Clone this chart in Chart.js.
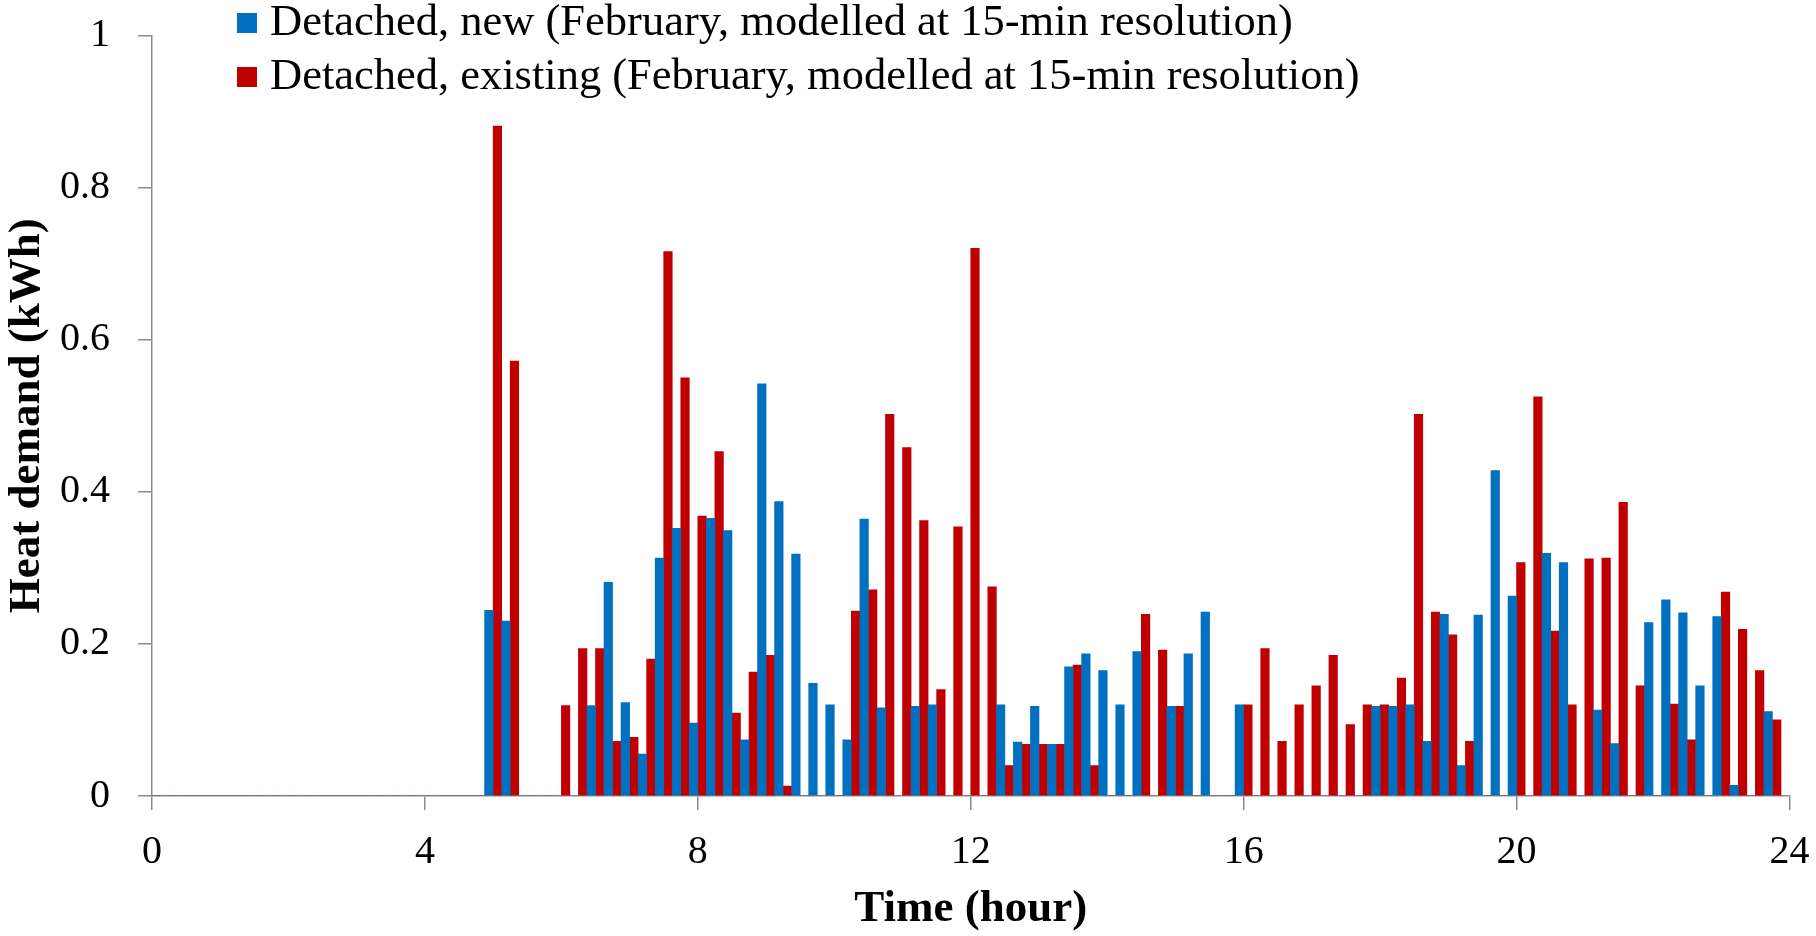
<!DOCTYPE html>
<html>
<head>
<meta charset="utf-8">
<title>Heat demand</title>
<script src="https://cdn.jsdelivr.net/npm/chart.js@4.4.1/dist/chart.umd.min.js"></script>
<style>
  html, body { margin: 0; padding: 0; background: #fff; }
  #wrap { width: 1816px; height: 936px; }
</style>
</head>
<body>
<div id="wrap"><canvas id="heat-chart"></canvas></div>
<script>
// 15-minute slots, start hour of each slot
const hours = [
  0, 0.25, 0.5, 0.75, 1, 1.25, 1.5, 1.75,
  2, 2.25, 2.5, 2.75, 3, 3.25, 3.5, 3.75,
  4, 4.25, 4.5, 4.75, 5, 5.25, 5.5, 5.75,
  6, 6.25, 6.5, 6.75, 7, 7.25, 7.5, 7.75,
  8, 8.25, 8.5, 8.75, 9, 9.25, 9.5, 9.75,
  10, 10.25, 10.5, 10.75, 11, 11.25, 11.5, 11.75,
  12, 12.25, 12.5, 12.75, 13, 13.25, 13.5, 13.75,
  14, 14.25, 14.5, 14.75, 15, 15.25, 15.5, 15.75,
  16, 16.25, 16.5, 16.75, 17, 17.25, 17.5, 17.75,
  18, 18.25, 18.5, 18.75, 19, 19.25, 19.5, 19.75,
  20, 20.25, 20.5, 20.75, 21, 21.25, 21.5, 21.75,
  22, 22.25, 22.5, 22.75, 23, 23.25, 23.5, 23.75,
];

const detached_new = [
  0, 0, 0, 0, 0, 0, 0, 0,
  0, 0, 0, 0, 0, 0, 0, 0,
  0, 0, 0, 0, 0.244, 0.230, 0, 0,
  0, 0, 0.119, 0.281, 0.123, 0.055, 0.313, 0.352,
  0.096, 0.365, 0.349, 0.074, 0.542, 0.387, 0.318, 0.148,
  0.120, 0.074, 0.364, 0.116, 0, 0.118, 0.120, 0,
  0, 0, 0.120, 0.071, 0.118, 0.068, 0.170, 0.187,
  0.165, 0.120, 0.190, 0, 0.118, 0.187, 0.242, 0,
  0.120, 0, 0, 0, 0, 0, 0, 0,
  0.118, 0.118, 0.120, 0.072, 0.239, 0.040, 0.238, 0.428,
  0.263, 0, 0.319, 0.307, 0, 0.113, 0.069, 0,
  0.228, 0.258, 0.241, 0.145, 0.236, 0.014, 0, 0.111,
];

const detached_existing = [
  0, 0, 0, 0, 0, 0, 0, 0,
  0, 0, 0, 0, 0, 0, 0, 0,
  0, 0, 0, 0, 0.881, 0.572, 0, 0,
  0.119, 0.194, 0.194, 0.072, 0.077, 0.180, 0.716, 0.550,
  0.368, 0.453, 0.109, 0.163, 0.185, 0.013, 0, 0,
  0, 0.243, 0.271, 0.502, 0.458, 0.362, 0.140, 0.354,
  0.720, 0.275, 0.040, 0.068, 0.068, 0.068, 0.172, 0.040,
  0, 0, 0.239, 0.192, 0.118, 0, 0, 0,
  0.120, 0.194, 0.072, 0.120, 0.145, 0.185, 0.094, 0.120,
  0.120, 0.155, 0.502, 0.242, 0.212, 0.072, 0, 0,
  0.307, 0.525, 0.217, 0.120, 0.312, 0.313, 0.386, 0.145,
  0, 0.121, 0.074, 0, 0.268, 0.219, 0.165, 0.100,
];

const series_names = [
  "Detached, new (February, modelled at 15-min resolution)",
  "Detached, existing (February, modelled at 15-min resolution)",
];
const series_colors = ["#0070c0", "#c00000"];

const hour_ticks = [0, 4, 8, 12, 16, 20, 24];
const demand_ticks = [0, 0.2, 0.4, 0.6, 0.8, 1];
const demand_labels = ["0", "0.2", "0.4", "0.6", "0.8", "1"];

const font_family = '"Liberation Serif", "Times New Roman", serif';
const axis_grey = "#8c8c8c";

// legend sits inside the plot, top left, like the excel one
const inside_legend = {
  id: "inside_legend",
  afterDraw(chart) {
    const ctx = chart.ctx;
    ctx.save();
    ctx.font = `44.5px ${font_family}`;
    ctx.textBaseline = "alphabetic";
    ctx.textAlign = "left";
    chart.data.datasets.forEach((ds, i) => {
      const baseline = 35 + i * 54;
      ctx.fillStyle = ds.backgroundColor;
      ctx.fillRect(237, baseline - 22, 20, 20);
      ctx.fillStyle = "#000";
      ctx.fillText(ds.label, 270, baseline);
    });
    ctx.restore();
  },
};

const get_datasets = () => {
  return [detached_new, detached_existing].map((values, i) => ({
    label: series_names[i],
    data: values,
    backgroundColor: series_colors[i],
    borderWidth: 0,
    categoryPercentage: 1,
    barPercentage: 1,
  }));
};

const axis_ticks = (list) => (axis) => {
  axis.ticks = list.map((v) => ({ value: v }));
};

const config = {
  type: "bar",
  data: {
    labels: hours,
    datasets: get_datasets(),
  },
  options: {
    responsive: true,
    maintainAspectRatio: false,
    animation: false,
    layout: { padding: { top: 35.5, right: 26.5, bottom: 0, left: 0 } },
    plugins: {
      legend: { display: false },
      tooltip: { enabled: false },
    },
    scales: {
      x: {
        type: "linear",
        min: 0,
        max: 24,
        offset: false,
        afterBuildTicks: axis_ticks(hour_ticks),
        afterFit: (axis) => {
          axis.height = 140;
          // edge labels should not push the plot area in
          axis.paddingLeft = 0;
          axis.paddingRight = 0;
        },
        grid: {
          offset: false,
          drawOnChartArea: false,
          drawTicks: true,
          tickLength: 14,
          color: axis_grey,
          lineWidth: 1.5,
        },
        border: { display: true, color: axis_grey, width: 1.5 },
        ticks: {
          color: "#000",
          font: { family: font_family, size: 40 },
          padding: 18,
          maxRotation: 0,
          autoSkip: false,
        },
        title: {
          display: true,
          text: "Time (hour)",
          color: "#000",
          font: { family: font_family, size: 45, weight: "bold" },
          padding: { top: 0, bottom: 0 },
        },
      },
      y: {
        min: 0,
        max: 1,
        afterBuildTicks: axis_ticks(demand_ticks),
        afterFit: (axis) => {
          axis.width = 152;
          axis.paddingTop = 0;
          axis.paddingBottom = 0;
        },
        grid: {
          drawOnChartArea: false,
          drawTicks: true,
          tickLength: 14,
          color: axis_grey,
          lineWidth: 1.5,
        },
        border: { display: true, color: axis_grey, width: 1.5 },
        ticks: {
          color: "#000",
          font: { family: font_family, size: 40 },
          padding: 28,
          callback: (value, index) => demand_labels[index],
        },
        title: {
          display: true,
          text: "Heat demand (kWh)",
          color: "#000",
          font: { family: font_family, size: 45, weight: "bold" },
          padding: { top: 0, bottom: 0 },
        },
      },
    },
  },
  plugins: [inside_legend],
};

const heat_chart = new Chart(document.getElementById("heat-chart"), config);
</script>
</body>
</html>
